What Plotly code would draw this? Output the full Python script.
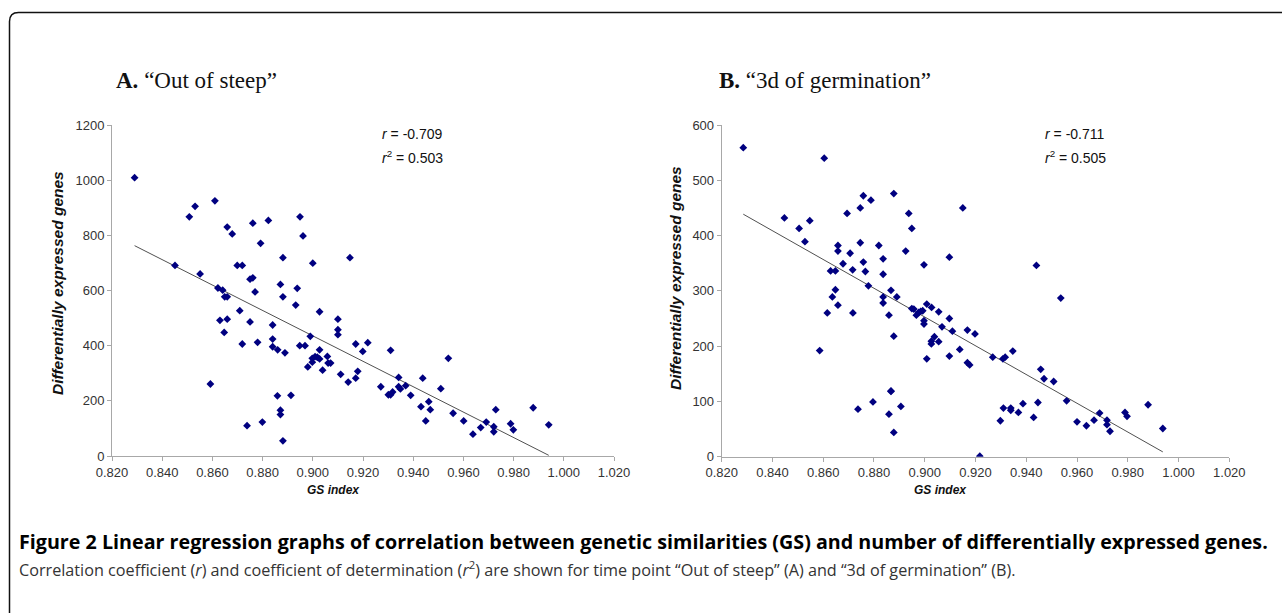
import numpy as np
import plotly.graph_objects as go

# figure fills the whole 1282x613 page (body margin removed after plotting)
OFF = 0
FW, FH = 1282, 613

# ---------------- data ----------------
gs_a = [0.8290, 0.8451, 0.8508, 0.8531, 0.8551, 0.8610, 0.8659, 0.8679, 0.8622, 0.8641,
        0.8649, 0.8659, 0.8699, 0.8719, 0.8750, 0.8761, 0.8761, 0.8770, 0.8792, 0.8823,
        0.8871, 0.8881, 0.8881, 0.8938, 0.8949, 0.8961, 0.9000, 0.9148, 0.8630, 0.8659,
        0.8647, 0.8709, 0.8719, 0.8750, 0.8780, 0.8840, 0.8840, 0.8840, 0.8860, 0.8889,
        0.8932, 0.8948, 0.8969, 0.8980, 0.8990, 0.8998, 0.8998, 0.9009, 0.9018, 0.9027,
        0.9027, 0.9027, 0.9039, 0.9058, 0.9061, 0.9071, 0.9100, 0.9100, 0.9100, 0.9111,
        0.9141, 0.9171, 0.9171, 0.9179, 0.9199, 0.9219, 0.8592, 0.8859, 0.8913, 0.8738,
        0.8799, 0.8871, 0.8871, 0.8881, 0.9310, 0.9540, 0.9342, 0.9271, 0.9301, 0.9310,
        0.9318, 0.9342, 0.9349, 0.9370, 0.9390, 0.9438, 0.9510, 0.9431, 0.9462, 0.9468,
        0.9450, 0.9559, 0.9601, 0.9638, 0.9669, 0.9691, 0.9721, 0.9721, 0.9729, 0.9788,
        0.9799, 0.9878, 0.9940]
deg_a = [1009, 691, 867, 905, 660, 925, 830, 805, 609, 601,
         577, 577, 691, 691, 641, 646, 844, 595, 771, 854,
         622, 719, 577, 608, 867, 798, 699, 719, 492, 496,
         448, 527, 406, 486, 412, 475, 424, 396, 385, 374,
         547, 400, 400, 323, 434, 354, 340, 360, 358, 385,
         523, 352, 311, 361, 337, 337, 496, 458, 440, 296,
         268, 406, 282, 307, 379, 411, 261, 218, 220, 110,
         123, 166, 150, 55, 383, 354, 285, 251, 222, 222,
         232, 251, 243, 255, 220, 282, 244, 179, 197, 168,
         127, 155, 127, 79, 103, 123, 106, 88, 168, 117,
         95, 175, 113]

gs_b = [0.8285, 0.8604, 0.8447, 0.8505, 0.8547, 0.8528, 0.8694, 0.8746, 0.8758, 0.8788,
        0.8878, 0.8937, 0.8949, 0.9150, 0.8746, 0.8658, 0.8658, 0.8706, 0.8819, 0.8836,
        0.8925, 0.8758, 0.8678, 0.8716, 0.8629, 0.8648, 0.8766, 0.8836, 0.8778, 0.8997,
        0.9097, 0.8648, 0.8636, 0.8836, 0.8867, 0.8890, 0.8616, 0.8658, 0.8717, 0.8836,
        0.8859, 0.8878, 0.8586, 0.8949, 0.8957, 0.8967, 0.8976, 0.8984, 0.8992, 0.8997,
        0.8997, 0.9008, 0.9027, 0.9055, 0.9097, 0.9068, 0.9109, 0.9168, 0.9038, 0.9026,
        0.9026, 0.9055, 0.9138, 0.9008, 0.9097, 0.9168, 0.9177, 0.8867, 0.8867, 0.8796,
        0.8737, 0.8906, 0.8859, 0.8878, 0.9440, 0.9536, 0.9198, 0.9268, 0.9308, 0.9317,
        0.9347, 0.9457, 0.9470, 0.9508, 0.9559, 0.9310, 0.9339, 0.9339, 0.9387, 0.9369,
        0.9446, 0.9298, 0.9429, 0.9600, 0.9637, 0.9667, 0.9689, 0.9718, 0.9718, 0.9730,
        0.9789, 0.9797, 0.9880, 0.9938, 0.9217]
deg_b = [559, 540, 432, 413, 427, 389, 440, 450, 472, 464,
         476, 440, 413, 450, 387, 382, 372, 368, 382, 358,
         372, 352, 349, 338, 336, 336, 335, 330, 309, 347,
         361, 302, 289, 289, 301, 289, 260, 274, 260, 278,
         256, 218, 192, 268, 267, 256, 261, 263, 264, 246,
         240, 276, 270, 262, 250, 235, 227, 229, 217, 209,
         204, 208, 194, 177, 182, 170, 166, 119, 118, 99,
         86, 91, 77, 44, 346, 287, 222, 180, 177, 180,
         191, 158, 141, 136, 101, 88, 88, 84, 96, 80,
         98, 65, 71, 63, 56, 66, 79, 66, 58, 46,
         80, 73, 94, 51, 1]

titles = ["<b>A.</b> \u201cOut of steep\u201d", "<b>B.</b> \u201c3d of germination\u201d"]
stats_a = ["-0.709", "0.503"]
stats_b = ["-0.711", "0.505"]
x_title = "GS index"
y_title = "Differentially expressed genes"
caption_bold = ("Figure 2 Linear regression graphs of correlation between genetic similarities (GS) "
                "and number of differentially expressed genes.")
caption_plain = ("Correlation coefficient (<i>r</i>) and coefficient of determination (<i>r</i><sup>2</sup>) "
                 "are shown for time point \u201cOut of steep\u201d (A) and \u201c3d of germination\u201d (B).")

# ---------------- helpers (page pixels -> paper fractions) ----------------
def px(x):
    return (x - OFF) / FW

def py(y):
    return 1 - (y - OFF) / FH

MARKER = dict(symbol="diamond", size=6, color="#000080", line=dict(width=0))
AXCOL = "#a8a8a8"
TICKFONT = dict(family="Liberation Sans, Arial, sans-serif", size=13, color="#333333")

fig = go.Figure()

panels = [
    dict(x=gs_a, y=deg_a, xa="x", ya="y", xdom=[px(112), px(614)], ydom=[py(456), py(125)],
         yr=[0, 1200], dt=200),
    dict(x=gs_b, y=deg_b, xa="x2", ya="y2", xdom=[px(721.7), px(1229.3)], ydom=[py(456.7), py(125)],
         yr=[0, 600], dt=100),
]

for p in panels:
    xs = np.array(p["x"])
    ys = np.array(p["y"])
    k, b = np.polyfit(xs, ys, 1)
    lx = np.array([xs.min(), xs.max()])
    fig.add_trace(go.Scatter(x=lx, y=k * lx + b, mode="lines", xaxis=p["xa"], yaxis=p["ya"],
                             line=dict(color="#505050", width=1), showlegend=False, hoverinfo="skip"))
    fig.add_trace(go.Scatter(x=xs, y=ys, mode="markers", xaxis=p["xa"], yaxis=p["ya"],
                             marker=MARKER, showlegend=False))

axis_common = dict(showgrid=False, zeroline=False, showline=True, linecolor=AXCOL, linewidth=1,
                   ticks="outside", ticklen=4, tickcolor=AXCOL, tickfont=TICKFONT, automargin=False)

layout = dict(
    width=FW, height=FH, margin=dict(l=0, r=0, t=0, b=0, autoexpand=False),
    paper_bgcolor="white", plot_bgcolor="white", showlegend=False,
)
for i, p in enumerate(panels):
    sfx = "" if i == 0 else "2"
    layout["xaxis" + sfx] = dict(axis_common, domain=p["xdom"], range=[0.82, 1.02], dtick=0.02,
                                 tick0=0.82, tickformat=".3f", anchor="y" + sfx)
    layout["yaxis" + sfx] = dict(axis_common, domain=p["ydom"], range=p["yr"], dtick=p["dt"],
                                 anchor="x" + sfx)
fig.update_layout(**layout)

ann = []
serif = dict(family="Liberation Serif, Times New Roman, serif", size=23, color="#111111")
ann.append(dict(x=px(114), y=py(80), text=titles[0], font=serif))
ann.append(dict(x=px(717), y=py(80), text=titles[1], font=serif))

statfont = dict(family="Liberation Sans, Arial, sans-serif", size=14, color="#111111")
for x0, st in [(380, stats_a), (1043, stats_b)]:
    ann.append(dict(x=px(x0), y=py(134), text="<i>r</i> = " + st[0], font=statfont))
    ann.append(dict(x=px(x0), y=py(157), text="<i>r</i><sup>2</sup> = " + st[1], font=statfont))

xtfont = dict(family="Liberation Sans, Arial, sans-serif", size=12, color="#111111")
ytfont = dict(family="Liberation Sans, Arial, sans-serif", size=15.5, color="#111111")
ann.append(dict(x=px(333), y=py(490), text="<b><i>" + x_title + "</i></b>", font=xtfont, xanchor="center"))
ann.append(dict(x=px(940), y=py(490), text="<b><i>" + x_title + "</i></b>", font=xtfont, xanchor="center"))
ann.append(dict(x=px(57), y=py(283), text="<b><i>" + y_title + "</i></b>", font=ytfont,
                xanchor="center", textangle=-90))
ann.append(dict(x=px(675), y=py(278), text="<b><i>" + y_title + "</i></b>", font=ytfont,
                xanchor="center", textangle=-90))

ann.append(dict(x=px(17), y=py(541), text="<b>" + caption_bold + "</b>",
                font=dict(family="Open Sans, sans-serif", size=19.7, color="#000000")))
ann.append(dict(x=px(17), y=py(569), text=caption_plain,
                font=dict(family="Open Sans, sans-serif", size=16.2, color="#333333")))

for a in ann:
    a.setdefault("xanchor", "left")
    a.setdefault("yanchor", "middle")
    a.update(xref="paper", yref="paper", showarrow=False)
fig.update_layout(annotations=ann)

# rounded frame, open towards right and bottom (kept inside the paper)
x0, y0, r = 9.5, 12.5, 9
path = (f"M {px(x0)},0 L {px(x0)},{py(y0 + r)} "
        f"Q {px(x0)},{py(y0)} {px(x0 + r)},{py(y0)} L 1,{py(y0)}")
fig.update_layout(shapes=[dict(type="path", path=path, xref="paper", yref="paper",
                               line=dict(color="#111111", width=1.5))])

fig.write_html("out.html", config={"displayModeBar": False},
               post_script="document.body.style.margin='0px';document.body.style.overflow='hidden';")
